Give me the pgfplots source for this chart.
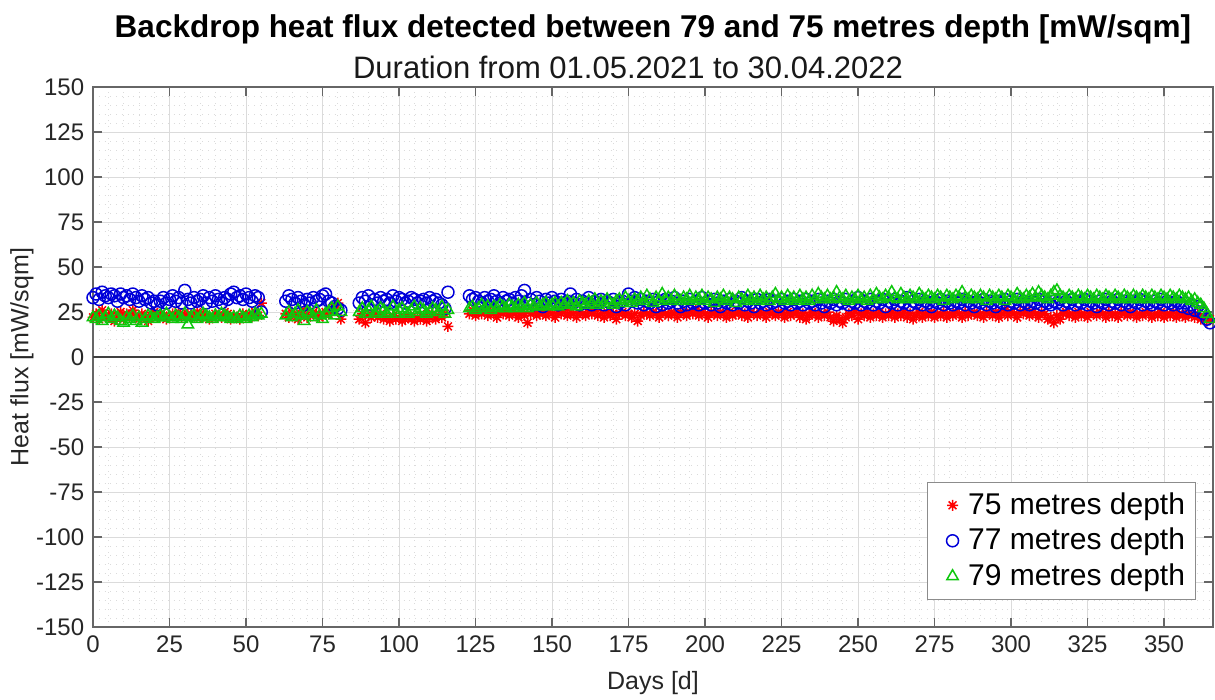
\documentclass[border=0pt]{standalone}
\usepackage{pgfplots}
\usepackage{pgfplotstable}
\pgfplotsset{compat=1.18}
\usepackage{fontspec}
\setmainfont{Liberation Sans}
\definecolor{mred}{rgb}{1,0,0}
\definecolor{mblue}{rgb}{0,0,0.85}
\definecolor{mgreen}{rgb}{0.05,0.78,0.05}
\pgfdeclareplotmark{mstar}{%
  \pgfpathmoveto{\pgfqpoint{\pgfplotmarksize}{0pt}}\pgfpathlineto{\pgfqpoint{-\pgfplotmarksize}{0pt}}%
  \pgfpathmoveto{\pgfqpoint{0pt}{\pgfplotmarksize}}\pgfpathlineto{\pgfqpoint{0pt}{-\pgfplotmarksize}}%
  \pgfpathmoveto{\pgfqpoint{0.707\pgfplotmarksize}{0.707\pgfplotmarksize}}\pgfpathlineto{\pgfqpoint{-0.707\pgfplotmarksize}{-0.707\pgfplotmarksize}}%
  \pgfpathmoveto{\pgfqpoint{-0.707\pgfplotmarksize}{0.707\pgfplotmarksize}}\pgfpathlineto{\pgfqpoint{0.707\pgfplotmarksize}{-0.707\pgfplotmarksize}}%
  \pgfusepathqstroke}
\pgfplotstableread{
d r b g
0 22 33 22
1 24 35 21
2 21 32 23
3 26 36 20
4 23 34 22
5 22 33 24
6 24 35 21
7 20 34 23
8 23 31 22
9 25 35 20
10 21 33 19
11 24 34 22
12 22 32 21
13 26 35 23
14 23 33 20
15 21 31 22
16 24 34 19
17 22 32 21
18 20 33 23
19 23 30 22
20 25 31 21
21 22 29 22
22 24 31 23
23 23 33 22
24 21 30 24
25 22 32 22
26 24 34 21
27 23 31 23
28 25 33 22
29 22 30 21
30 23 37 24
31 24 32 18
32 22 30 22
33 23 33 23
34 25 31 21
35 22 32 22
36 24 34 24
37 23 30 23
38 21 33 22
39 22 31 21
40 24 34 23
41 23 32 22
42 22 30 24
43 25 33 23
44 24 32 22
45 21 35 21
46 23 36 22
47 22 33 21
48 21 34 23
49 24 32 22
50 23 35 21
51 22 33 23
52 24 31 22
53 25 34 24
54 23 33 23
55 30 25 24
63 24 31 23
64 22 34 25
65 25 32 22
66 23 30 24
67 21 33 26
68 24 31 23
69 26 29 20
70 22 32 25
71 23 30 24
72 25 33 22
73 24 31 26
74 22 32 23
75 23 34 21
76 25 35 24
77 24 31 25
78 27 30 27
79 26 28 23
80 30 27 28
81 21 26 25
87 21 30 25
88 24 33 27
89 19 31 24
90 23 34 26
91 22 29 28
92 25 32 24
93 22 30 25
94 24 33 27
95 21 31 26
96 22 32 24
97 20 30 25
98 23 34 28
99 21 31 24
100 22 33 26
101 20 32 27
102 21 30 25
103 23 31 24
104 21 33 26
105 20 32 28
106 22 30 25
107 21 31 27
108 23 32 26
109 20 30 24
110 22 33 25
111 24 31 27
112 21 32 26
113 23 30 25
114 22 29 28
115 24 27 24
116 17 36 26
123 24 34 27
124 26 32 28
125 23 33 26
126 25 31 27
127 24 30 29
128 26 33 27
129 23 31 28
130 25 32 26
131 24 34 28
132 22 31 27
133 25 30 29
134 24 33 28
135 26 31 27
136 23 32 29
137 25 30 28
138 24 33 27
139 22 31 29
140 25 34 28
141 23 37 30
142 19 30 27
143 24 32 29
144 25 29 28
145 23 33 30
146 24 31 28
147 26 28 29
148 23 32 30
149 25 30 28
150 24 33 29
151 22 31 30
152 25 29 28
153 24 32 30
154 26 30 29
155 23 31 31
156 25 35 29
157 24 30 30
158 22 32 28
159 25 29 31
160 24 31 30
161 23 30 29
162 25 33 31
163 24 29 30
164 26 31 32
165 23 30 29
166 24 32 31
167 22 29 30
168 25 31 32
169 23 30 30
170 24 32 29
171 21 28 31
172 24 30 32
173 25 31 30
174 23 29 33
175 24 35 31
176 22 31 30
177 24 33 32
178 20 30 31
179 23 32 33
180 25 29 31
181 24 31 34
182 23 30 32
183 25 32 30
184 24 28 33
185 22 31 31
186 25 29 35
187 24 32 32
188 23 30 33
189 25 31 31
190 24 33 34
191 22 30 32
192 25 28 31
193 24 31 33
194 23 29 32
195 25 32 34
196 24 30 31
197 26 31 33
198 23 29 32
199 25 33 34
200 24 30 31
201 22 31 33
202 25 29 32
203 24 32 30
204 23 30 33
205 25 28 32
206 24 31 34
207 22 30 31
208 25 32 33
209 23 29 32
210 24 31 30
211 25 30 33
212 23 33 32
213 24 29 31
214 22 31 34
215 25 30 32
216 24 28 33
217 23 32 31
218 25 30 34
219 24 31 32
220 22 29 33
221 25 32 31
222 24 30 33
223 23 31 35
224 25 28 32
225 24 32 33
226 22 30 31
227 25 31 34
228 23 29 32
229 24 32 33
230 25 30 31
231 22 31 34
232 24 29 32
233 21 32 33
234 23 30 31
235 25 31 34
236 24 29 32
237 22 32 35
238 24 30 33
239 23 28 32
240 25 31 34
241 22 30 32
242 20 32 33
243 23 29 36
244 21 31 33
245 19 30 32
246 22 32 34
247 24 29 31
248 23 31 33
249 25 30 32
250 21 33 34
251 24 29 32
252 23 31 33
253 25 30 31
254 22 32 34
255 24 29 32
256 23 31 35
257 25 30 33
258 22 32 32
259 24 28 34
260 23 31 33
261 25 30 36
262 22 32 33
263 24 29 32
264 23 31 35
265 25 30 33
266 22 33 32
267 24 29 34
268 21 31 33
269 23 30 32
270 25 32 35
271 22 29 33
272 24 31 32
273 23 30 34
274 25 28 33
275 22 31 32
276 24 30 34
277 23 32 33
278 25 29 31
279 22 31 34
280 24 30 33
281 23 29 32
282 25 31 34
283 24 30 33
284 22 32 36
285 25 29 33
286 23 31 32
287 24 30 34
288 25 28 33
289 23 31 32
290 24 30 34
291 22 32 33
292 25 29 31
293 24 31 34
294 23 30 33
295 25 28 32
296 22 31 34
297 24 30 33
298 26 32 31
299 23 29 34
300 25 31 33
301 24 30 32
302 22 32 35
303 25 29 33
304 24 31 32
305 26 30 34
306 23 29 33
307 25 31 35
308 24 30 33
309 22 32 36
310 25 29 34
311 24 31 33
312 21 30 32
313 22 29 34
314 19 31 36
315 23 30 37
316 21 32 34
317 24 29 33
318 25 31 32
319 23 30 34
320 24 32 33
321 22 29 32
322 25 31 34
323 23 30 33
324 24 32 32
325 22 29 34
326 25 31 33
327 24 30 32
328 23 28 34
329 25 31 33
330 24 30 32
331 22 32 34
332 25 29 33
333 23 31 32
334 24 30 34
335 22 32 33
336 25 29 32
337 24 31 34
338 23 30 33
339 25 28 32
340 24 31 34
341 22 30 33
342 24 32 32
343 23 29 34
344 25 31 33
345 24 30 32
346 22 29 34
347 24 31 33
348 23 30 32
349 25 32 34
350 22 29 33
351 24 31 32
352 23 30 34
353 25 29 33
354 22 31 32
355 24 30 34
356 23 28 33
357 22 30 32
358 24 27 33
359 23 29 31
360 22 26 32
361 24 28 30
362 21 25 29
363 22 24 27
364 20 21 24
365 21 19 21
}\flux
\begin{document}
\begin{tikzpicture}
\path[use as bounding box] (-37.2pt,-28.8pt) rectangle (448.8pt,250.8pt);
\begin{axis}[
  name=ax, at={(0,0)}, anchor=south west, scale only axis,
  width=448pt, height=216pt,
  xmin=0, xmax=366, ymin=-150, ymax=150,
  xtick={0,25,...,350}, ytick={-150,-125,...,150},
  minor x tick num=4, minor y tick num=4,
  grid=both,
  major grid style={black!14, line width=0.4pt},
  minor grid style={black!14, line width=0.3pt, dotted},
  tick align=inside, major tick length=3.5pt, minor tick length=0pt,
  axis line style={black!60, line width=0.5pt}, tick style={black!60, line width=0.5pt},
  ticklabel style={font=\fontsize{9.6}{11}\selectfont, text=black!85},
  /pgf/number format/assume math mode=true,
  xlabel={Days [d]}, ylabel={Heat flux [mW/sqm]},
  xlabel style={font=\fontsize{10}{12}\selectfont, at={(axis description cs:0.5,-0.1037)}, anchor=center, text=black!85},
  ylabel style={font=\fontsize{10}{12}\selectfont, at={(axis description cs:-0.0634,0.5)}, anchor=center, text=black!85},
  legend image code/.code={\path[draw=none, fill=none] (-0.28cm,0cm) -- (0.15cm,0cm); \draw[#1, only marks] plot coordinates {(0cm,0cm)};},
  legend style={at={(1,0)}, anchor=south east, xshift=-7pt, yshift=11pt, draw=black!45, line width=0.4pt,
    font=\fontsize{12}{14}\selectfont, inner sep=2pt, row sep=0pt, cells={anchor=west}},
  legend cell align=left,
]
\addplot[black!75, line width=0.8pt, forget plot] coordinates {(0,0) (366,0)};
\addplot[only marks, mark=mstar, mark size=2.2pt, color=mred, line width=0.6pt] table[x=d, y=r] {\flux};
\addplot[only marks, mark=o, mark size=2.4pt, color=mblue, line width=0.6pt] table[x=d, y=b] {\flux};
\addplot[only marks, mark=triangle, mark size=2.6pt, color=mgreen, line width=0.6pt] table[x=d, y=g] {\flux};
\legend{75 metres depth, 77 metres depth, 79 metres depth}
\end{axis}
\node[font=\bfseries\fontsize{12.6}{14}\selectfont, anchor=center] at ([yshift=23pt]ax.north) {Backdrop heat flux detected between 79 and 75 metres depth [mW/sqm]};
\node[font=\fontsize{12.4}{14}\selectfont, anchor=center, text=black!90] at ([xshift=-10pt,yshift=7.8pt]ax.north) {Duration from 01.05.2021 to 30.04.2022};
\end{tikzpicture}
\end{document}
